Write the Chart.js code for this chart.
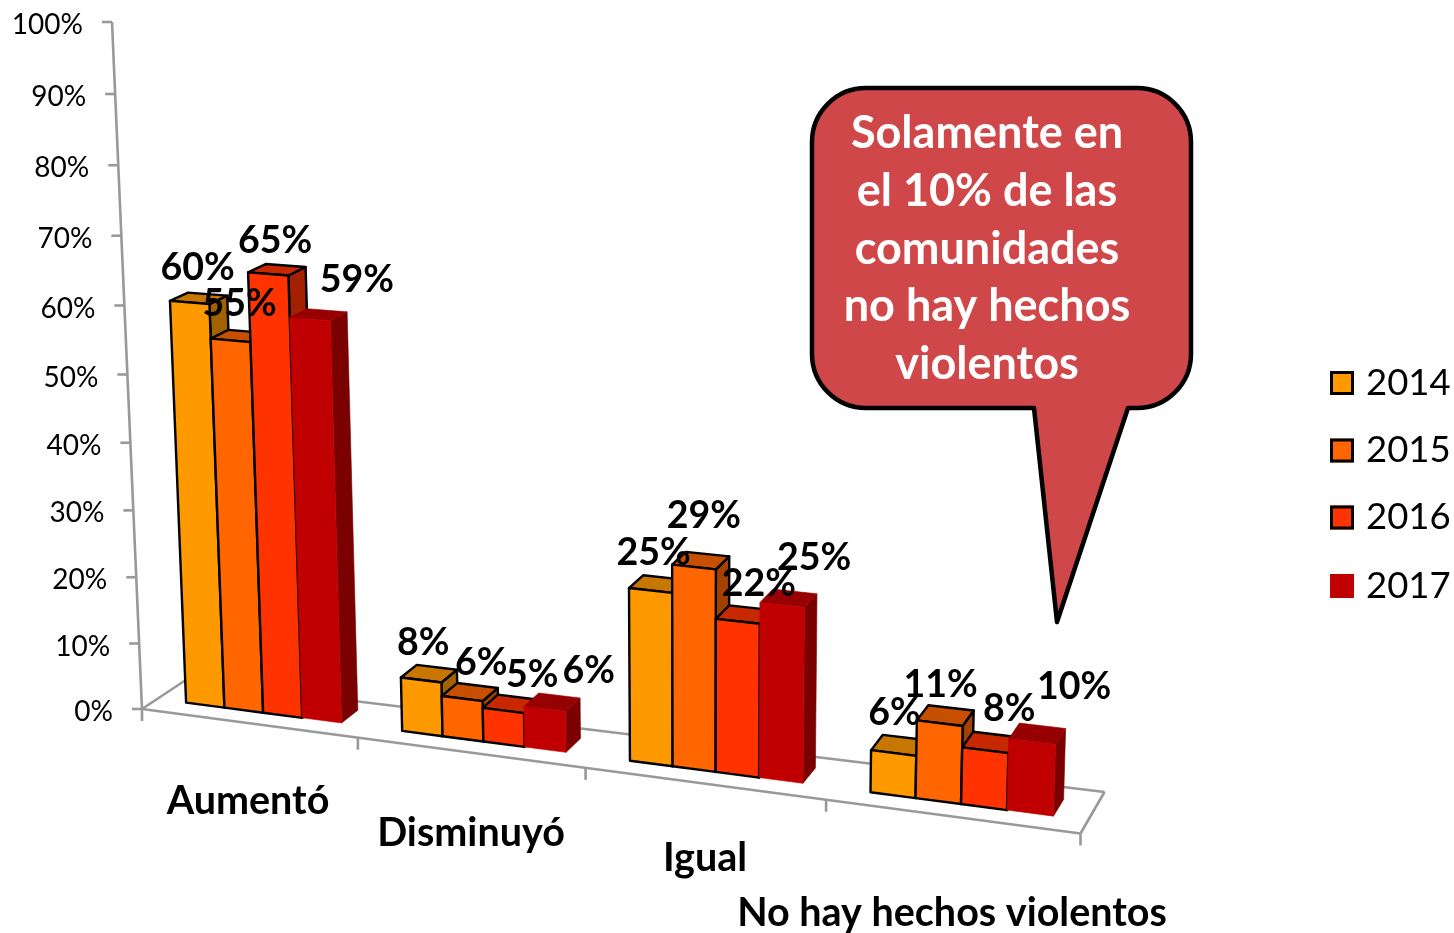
<!DOCTYPE html>
<html><head><meta charset="utf-8">
<style>html,body{margin:0;padding:0;background:#fff}canvas{display:block}</style>
<script src="https://cdn.jsdelivr.net/npm/chart.js@4"></script>
</head><body><canvas id="c" width="1454" height="933"></canvas>
<script>
const categories = ['Aumentó','Disminuyó','Igual','No hay hechos violentos'];
const values2014 = [60,8,25,6];
const values2015 = [55,6,29,11];
const values2016 = [65,5,22,8];
const values2017 = [59,6,25,10];
const yTicksStep = 10;
const calloutLines = ['Solamente en','el 10% de las','comunidades','no hay hechos','violentos'];

// layout of the hand-placed texts
const labelNudge = [
 [[8,-35],[2,-37],[3,-38],[1,-40]],
 [[9,-36],[19,-36],[10,-51],[1,-38]],
 [[7,-33],[29,-36],[21,-37],[24,-41]],
 [[47,-39],[44,-38],[32,-47],[42,-55]]];
const catLabelPos = [[248,801],[471,833],[705,858],[952,913]];
const legendRowTops = [371,438.5,505.5,574];

// projection of the plot cube (u along categories, d depth, h height)
const O=[142,709], X=[1080.5,833.5], Y=[185,680.5], Z=[112,22];
const wu=-0.1037, wd=0.0234, wh=-0.051, skewY=-6.6;
const A=[X[0]*(1+wu)-O[0], X[1]*(1+wu)-O[1]];
const B=[Y[0]*(1+wd)-O[0], Y[1]*(1+wd)-O[1]];
const C=[Z[0]*(1+wh)-O[0], Z[1]*(1+wh)-O[1]];
function P(u,d,h){
  const w=1+wu*u+wd*d+wh*h;
  return [(O[0]+A[0]*u+B[0]*d+C[0]*h)/w,(O[1]+A[1]*u+B[1]*d+C[1]*h)/w+skewY*u*d*d*d];
}
const D0=0.35, D1=0.76;
function shade(hex,f){
  const n=parseInt(hex.slice(1),16);
  return 'rgb('+[(n>>16)&255,(n>>8)&255,n&255].map(v=>Math.round(v*f)).join(',')+')';
}
function quad(ctx,pts,fill,stroke,lw){
  ctx.beginPath();pts.forEach((p,i)=>i?ctx.lineTo(p[0],p[1]):ctx.moveTo(p[0],p[1]));ctx.closePath();
  ctx.fillStyle=fill;ctx.fill();
  if(lw>0){ctx.strokeStyle=stroke;ctx.lineWidth=lw;ctx.lineJoin='round';ctx.stroke();}
  else{ctx.strokeStyle=fill;ctx.lineWidth=0.6;ctx.stroke();}
}
function seg(ctx,a,b){ctx.beginPath();ctx.moveTo(a[0],a[1]);ctx.lineTo(b[0],b[1]);ctx.stroke();}
const LABEL='Lato, Carlito, sans-serif';

const cube3d={
  id:'cube3d',
  beforeDatasetDraw(){return false;},
  beforeDatasetsDraw(chart){
    const ctx=chart.ctx, a=chart.chartArea, ys=chart.scales.y;
    ctx.save();
    // floor & axes
    ctx.strokeStyle='#999';ctx.lineWidth=2.6;ctx.lineCap='butt';
    seg(ctx,P(0,0,0),P(1,0,0));seg(ctx,P(0,1,0),P(1,1,0));
    seg(ctx,P(0,0,0),P(0,1,0));seg(ctx,P(1,0,0),P(1,1,0));
    seg(ctx,P(0,0,0),P(0,0,1));
    for(let i=0;i<=categories.length;i++){
      const p=P(i/categories.length,0,0);seg(ctx,p,[p[0],p[1]+12]);
    }
    ctx.font='28px '+LABEL;ctx.textAlign='right';ctx.textBaseline='middle';
    ys.ticks.forEach(t=>{
      const p=P(0,0,t.value/ys.max);
      seg(ctx,p,[p[0]-10,p[1]]);
      ctx.fillStyle='#000';
      ctx.fillText(t.label,p[0]-29,p[1]+3);
    });
    // bars
    chart.data.datasets.forEach((ds,di)=>{
      const lw=ds.borderWidth;
      chart.getDatasetMeta(di).data.forEach(el=>{
        const u0=(el.x-el.width/2-a.left)/a.width,u1=(el.x+el.width/2-a.left)/a.width;
        const h=(ys.getPixelForValue(0)-el.y)/(ys.getPixelForValue(0)-ys.getPixelForValue(ys.max));
        quad(ctx,[P(u1,D0,0),P(u1,D1,0),P(u1,D1,h),P(u1,D0,h)],shade(ds.backgroundColor,0.64),'#000',lw);
        quad(ctx,[P(u0,D0,h),P(u1,D0,h),P(u1,D1,h),P(u0,D1,h)],shade(ds.backgroundColor,0.78),'#000',lw);
        quad(ctx,[P(u0,D0,0),P(u1,D0,0),P(u1,D0,h),P(u0,D0,h)],ds.backgroundColor,'#000',lw);
      });
    });
    ctx.restore();
  },
  afterDatasetsDraw(chart){
    const ctx=chart.ctx,a=chart.chartArea,ys=chart.scales.y;
    ctx.save();
    ctx.textAlign='center';ctx.textBaseline='middle';ctx.fillStyle='#000';
    ctx.font='bold 37.5px '+LABEL;
    chart.data.datasets.forEach((ds,di)=>{
      chart.getDatasetMeta(di).data.forEach((el,i)=>{
        const u=(el.x-a.left)/a.width;
        const h=(ys.getPixelForValue(0)-el.y)/(ys.getPixelForValue(0)-ys.getPixelForValue(ys.max));
        const p=P(u,D0,h),n=labelNudge[di][i];
        ctx.fillText(ds.data[i]+'%',p[0]+n[0],p[1]+n[1]);
      });
    });
    ctx.font='bold 39.5px '+LABEL;
    chart.data.labels.forEach((t,i)=>ctx.fillText(t,catLabelPos[i][0],catLabelPos[i][1]));
    // legend
    ctx.textAlign='left';ctx.font='36.5px '+LABEL;
    chart.data.datasets.forEach((ds,di)=>{
      const t=legendRowTops[di];
      ctx.fillStyle=ds.backgroundColor;ctx.fillRect(1330,t,24,24);
      if(ds.borderWidth>0){ctx.strokeStyle='#000';ctx.lineWidth=3;ctx.strokeRect(1331.5,t+1.5,21,21);}
      ctx.fillStyle='#000';ctx.fillText(ds.label,1366,t+12);
    });
    // callout
    const L=812,T=88,R=1191,Bt=408,r=54;
    ctx.beginPath();
    ctx.moveTo(L+r,T);ctx.lineTo(R-r,T);ctx.arcTo(R,T,R,T+r,r);ctx.lineTo(R,Bt-r);ctx.arcTo(R,Bt,R-r,Bt,r);
    ctx.lineTo(1128,Bt);ctx.lineTo(1057,622);ctx.lineTo(1034,Bt);
    ctx.lineTo(L+r,Bt);ctx.arcTo(L,Bt,L,Bt-r,r);ctx.lineTo(L,T+r);ctx.arcTo(L,T,L+r,T,r);ctx.closePath();
    ctx.fillStyle='#D0474A';ctx.fill();ctx.strokeStyle='#000';ctx.lineWidth=4.5;ctx.lineJoin='round';ctx.stroke();
    ctx.textAlign='center';ctx.fillStyle='#fff';ctx.font='bold 45px '+LABEL;
    [133,191,249,306,364].forEach((y,i)=>ctx.fillText(calloutLines[i],987,y));
    ctx.restore();
  }
};

new Chart(document.getElementById('c'),{
  type:'bar',
  data:{labels:categories,datasets:[
    {label:'2014',data:values2014,backgroundColor:'#FF9900',borderColor:'#000',borderWidth:2.4},
    {label:'2015',data:values2015,backgroundColor:'#FF6600',borderColor:'#000',borderWidth:2.4},
    {label:'2016',data:values2016,backgroundColor:'#FF3300',borderColor:'#000',borderWidth:2.4},
    {label:'2017',data:values2017,backgroundColor:'#C00000',borderColor:'#C00000',borderWidth:0}
  ]},
  options:{
    responsive:false,animation:false,
    layout:{padding:0},
    datasets:{bar:{categoryPercentage:0.725,barPercentage:1}},
    scales:{
      x:{display:false},
      y:{display:false,min:0,max:100,ticks:{stepSize:yTicksStep,callback:v=>v+'%'}}
    },
    plugins:{
      tooltip:{enabled:false},
      legend:{display:false}
    }
  },
  plugins:[cube3d]
});
</script></body></html>
